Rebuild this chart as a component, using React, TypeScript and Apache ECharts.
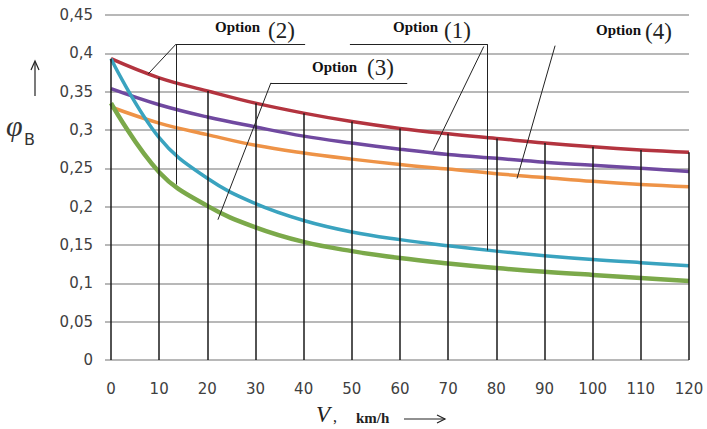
import React, { useEffect, useRef } from "react";
import * as echarts from "echarts";

// ---- data ----
const speeds = [0, 10, 20, 30, 40, 50, 60, 70, 80, 90, 100, 110, 120];
const redCurve = [0.393, 0.368, 0.351, 0.335, 0.322, 0.311, 0.302, 0.295, 0.289, 0.283, 0.278, 0.274, 0.271];
const purpleCurve = [0.354, 0.333, 0.317, 0.304, 0.292, 0.283, 0.275, 0.268, 0.263, 0.258, 0.254, 0.25, 0.246];
const orangeCurve = [0.33, 0.309, 0.294, 0.28, 0.27, 0.262, 0.255, 0.249, 0.243, 0.238, 0.233, 0.229, 0.226];
const cyanCurve = [0.393, 0.29, 0.237, 0.204, 0.182, 0.167, 0.157, 0.149, 0.142, 0.136, 0.131, 0.127, 0.123];
const greenCurve = [0.335, 0.245, 0.201, 0.173, 0.154, 0.142, 0.133, 0.126, 0.12, 0.115, 0.111, 0.107, 0.103];
const yTickLabels = ["0", "0,05", "0,1", "0,15", "0,2", "0,25", "0,3", "0,35", "0,4", "0,45"];
const xTickLabels = ["0", "10", "20", "30", "40", "50", "60", "70", "80", "90", "100", "110", "120"];

// leader lines of the annotations, in data coordinates [speed, value]
const leaders: [number, number][][] = [
  // Option (2)
  [[13.5, 0.412], [40.3, 0.412]],
  [[13.5, 0.412], [7.7, 0.373]],
  [[13.5, 0.412], [13.5, 0.229]],
  // Option (3)
  [[33.2, 0.3615], [61.5, 0.3615]],
  [[33.2, 0.3615], [22.2, 0.183]],
  // Option (1)
  [[49.6, 0.412], [78.1, 0.412]],
  [[78.1, 0.412], [78.1, 0.143]],
  [[77.4, 0.409], [66.9, 0.273]],
  // Option (4)
  [[92.2, 0.41], [120.8, 0.41]],
  [[92.2, 0.41], [84.3, 0.2367]],
];

const curves = [
  { name: "red", data: redCurve, color: "#B3343F", width: 3.5 },
  { name: "purple", data: purpleCurve, color: "#7049A0", width: 3.5 },
  { name: "orange", data: orangeCurve, color: "#EE9347", width: 3.5 },
  { name: "cyan", data: cyanCurve, color: "#3AA3BF", width: 3.5 },
  { name: "green", data: greenCurve, color: "#7BA94A", width: 4.5 },
];

const serif = "'Liberation Serif', 'DejaVu Serif', serif";
const sans = "'DejaVu Sans', 'Open Sans', sans-serif";
const labelColor = "#404040";

export default function App() {
  const ref = useRef<HTMLDivElement>(null);

  useEffect(() => {
    if (!ref.current) return;
    const chart = echarts.init(ref.current, null, { renderer: "svg" });

    const lineSeries = curves.map((c) => ({
      type: "line",
      name: c.name,
      data: speeds.map((s, i) => [s, c.data[i]]),
      smooth: 0.4,
      symbol: "none",
      z: 2,
      lineStyle: { color: c.color, width: c.width },
    }));

    const dropLines = {
      type: "line",
      name: "drop",
      data: [],
      symbol: "none",
      z: 3,
      silent: true,
      clip: false,
      markLine: {
        silent: true,
        symbol: ["none", "none"],
        label: { show: false },
        lineStyle: { color: "#1a1a1a", width: 1.5, type: "solid" },
        data: speeds.map((s, i) => [{ coord: [s, 0] }, { coord: [s, redCurve[i]] }]),
      },
    };

    const leaderLines = {
      type: "line",
      name: "leaders",
      data: [],
      symbol: "none",
      z: 4,
      silent: true,
      clip: false,
      markLine: {
        silent: true,
        symbol: ["none", "none"],
        label: { show: false },
        lineStyle: { color: "#222", width: 1, type: "solid" },
        data: leaders.map((seg) => [{ coord: seg[0] }, { coord: seg[1] }]),
      },
    };

    const optText = (x: number, y: number, num: string, nx: number, ny: number) => [
      {
        type: "text",
        x,
        y,
        style: { text: "Option", font: `bold 15px ${serif}`, fill: "#111" },
      },
      {
        type: "text",
        x: nx,
        y: ny,
        style: { text: num, font: `23px ${serif}`, fill: "#222" },
      },
    ];

    chart.setOption({
      animation: false,
      backgroundColor: "#ffffff",
      grid: { left: 111, right: 18, top: 15, bottom: 69, containLabel: false },
      xAxis: {
        type: "value",
        min: 0,
        max: 120,
        interval: 10,
        axisLine: { show: false },
        axisTick: { show: false },
        splitLine: { show: false },
        axisLabel: {
          margin: 21,
          color: labelColor,
          fontSize: 15,
          fontFamily: sans,
          formatter: (v: number) => xTickLabels[Math.round(v / 10)] ?? String(v),
        },
      },
      yAxis: {
        type: "value",
        min: 0,
        max: 0.45,
        interval: 0.05,
        axisLine: { show: false },
        axisTick: { show: true, length: 6, lineStyle: { color: "#a0a0a0", width: 1.5 } },
        splitLine: { show: true, lineStyle: { color: "#a0a0a0", width: 1.5 } },
        axisLabel: {
          margin: 18,
          color: labelColor,
          fontSize: 15,
          fontFamily: sans,
          formatter: (v: number) => yTickLabels[Math.round(v / 0.05)] ?? String(v),
        },
      },
      series: [...lineSeries, dropLines, leaderLines],
      graphic: [
        ...optText(215, 19, "(2)", 268, 19),
        ...optText(312, 59, "(3)", 367, 56),
        ...optText(393, 19, "(1)", 444, 19),
        ...optText(596, 22, "(4)", 645, 20),
        // y-axis label
        { type: "line", shape: { x1: 35, y1: 62, x2: 35, y2: 96 }, style: { stroke: "#222", lineWidth: 1.2 } },
        { type: "polyline", shape: { points: [[31, 70], [35, 61], [39, 70]] }, style: { stroke: "#222", lineWidth: 1.2, fill: null } },
        {
          type: "text",
          x: 6,
          y: 110,
          style: { text: "φ", font: `italic 30px ${serif}`, fill: "#333" },
        },
        {
          type: "text",
          x: 24,
          y: 131,
          style: { text: "B", font: `16px ${sans}`, fill: "#333" },
        },
        // x-axis label
        {
          type: "text",
          x: 316,
          y: 403,
          style: { text: "V", font: `italic 23px ${serif}`, fill: "#222" },
        },
        {
          type: "text",
          x: 333,
          y: 408,
          style: { text: ",", font: `16px ${serif}`, fill: "#222" },
        },
        {
          type: "text",
          x: 356,
          y: 410,
          style: { text: "km/h", font: `bold 15px ${serif}`, fill: "#222" },
        },
        { type: "line", shape: { x1: 404, y1: 419, x2: 445, y2: 419 }, style: { stroke: "#222", lineWidth: 1.2 } },
        { type: "polyline", shape: { points: [[437, 415], [445, 419], [437, 423]] }, style: { stroke: "#222", lineWidth: 1.2, fill: null } },
      ],
    });

    return () => chart.dispose();
  }, []);

  return (
    <div
      ref={ref}
      style={{ position: "absolute", left: 0, top: 0, width: 707, height: 429, background: "#fff" }}
    />
  );
}
